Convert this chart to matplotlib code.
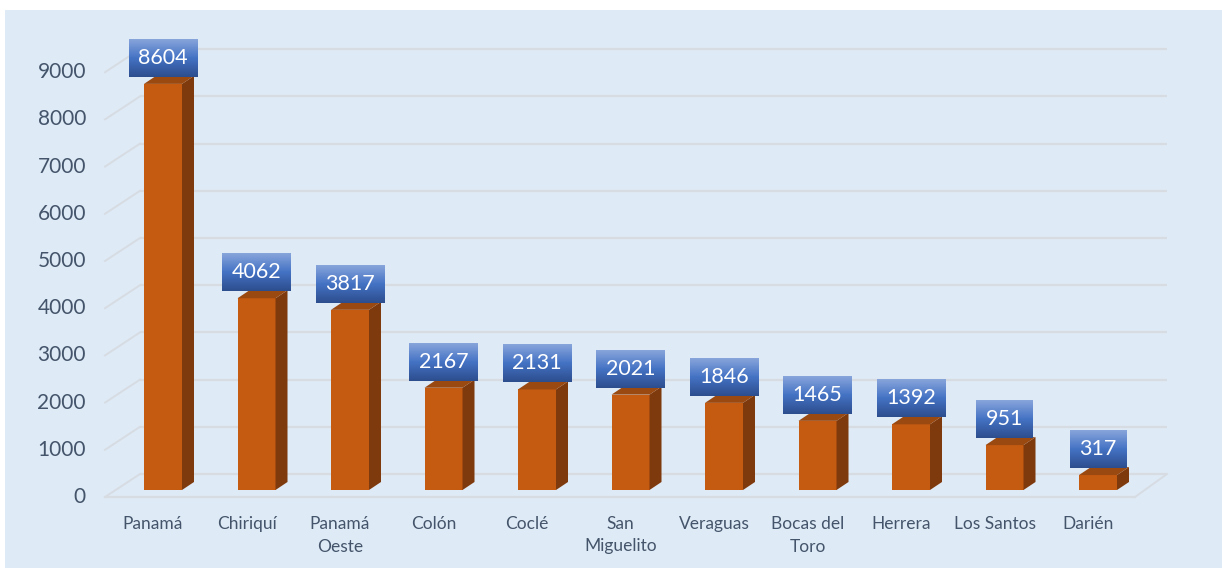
import matplotlib
matplotlib.use("Agg")
import matplotlib.pyplot as plt
import numpy as np
from matplotlib.patches import Rectangle, Polygon
from matplotlib.colors import LinearSegmentedColormap

categories = ["Panamá", "Chiriquí", "Panamá\nOeste", "Colón", "Coclé", "San\nMiguelito",
              "Veraguas", "Bocas del\nToro", "Herrera", "Los Santos", "Darién"]
values = [8604, 4062, 3817, 2167, 2131, 2021, 1846, 1465, 1392, 951, 317]
yticks = [0, 1000, 2000, 3000, 4000, 5000, 6000, 7000, 8000, 9000]

W, H = 1222, 568
fig = plt.figure(figsize=(W / 100, H / 100), dpi=100)
fig.patch.set_facecolor("white")
bg = Rectangle((5 / W, 0), 1 - 5 / W, 1 - 10 / H, transform=fig.transFigure,
               facecolor="#DEEAF6", edgecolor="none", zorder=-10)
fig.patches.append(bg)

ax = fig.add_axes([0, 0, 1, 1])
ax.set_facecolor("none")
ax.axis("off")
ax.set_zorder(5)

# pixel <-> data scales
X0, XS = 163.0, 93.5          # pixel x of first bar centre, px per category
Y0, YS = 490.0, 47.2          # pixel y of bar base, px per 1000
xlim = (-X0 / XS, (W - X0) / XS)
ylim = ((Y0 - H) / YS * 1000, Y0 / YS * 1000)
px_x = 1 / XS
px_y = 1000 / YS

def px(x):   # pixel x -> data x
    return (x - X0) / XS

grid_c = "#D7DCE3"
# back wall gridlines and left wall diagonals
for v in yticks:
    yb = v + 16 * px_y
    yf = v - 7 * px_y
    ax.plot([px(140), px(1167)], [yb, yb], color=grid_c, lw=1.6, zorder=1,
            solid_capstyle="butt")
    ax.plot([px(105), px(140)], [yf, yb], color=grid_c, lw=1.4, zorder=1)
# floor
ax.plot([px(105), px(1135)], [-7 * px_y, -7 * px_y], color=grid_c, lw=1.6, zorder=1)
ax.plot([px(1135), px(1167)], [-7 * px_y, 16 * px_y], color=grid_c, lw=1.4, zorder=1)

# bars
w = 38 * px_x
dx, dy = 12 * px_x, 8 * px_y
front_c, side_c, top_c = "#C55A11", "#7E390C", "#9A4911"
for i, v in enumerate(values):
    xl, xr = i - w / 2, i + w / 2
    ax.add_patch(Rectangle((xl, 0), w, v, facecolor=front_c, edgecolor="none", zorder=3))
    ax.add_patch(Polygon([(xr, 0), (xr + dx, dy), (xr + dx, v + dy), (xr, v)],
                         closed=True, facecolor=side_c, edgecolor="none", zorder=3))
    ax.add_patch(Polygon([(xl, v), (xr, v), (xr + dx, v + dy), (xl + dx, v + dy)],
                         closed=True, facecolor=top_c, edgecolor="none", zorder=3))

# tick labels
tick_c = "#44546A"
for v in yticks:
    ax.text(px(86), v - 7 * px_y, str(v), ha="right", va="center", fontsize=15,
            family="Lato", color=tick_c, zorder=5)
for i, c in enumerate(categories):
    ax.text(i - 10 * px_x, -26 * px_y, c, ha="center", va="top", fontsize=12.5,
            family="Lato", color=tick_c, linespacing=1.5, zorder=5)

ax.set_xlim(*xlim)
ax.set_ylim(*ylim)

# value labels with gradient boxes
cmap = LinearSegmentedColormap.from_list("g", ["#2D4E8E", "#4472C4", "#87A5DB"])
grad = np.linspace(0, 1, 64).reshape(-1, 1)
fig.canvas.draw()
renderer = fig.canvas.get_renderer()
for i, v in enumerate(values):
    bottom = v + 7 * px_y
    boxh = 38 * px_y
    t = ax.text(i, bottom + boxh / 2, str(v), ha="center", va="center", fontsize=15.5,
                family="Lato", color="white", zorder=8)
    ext = t.get_window_extent(renderer)
    half = (ext.width / 2 + 9.5) * px_x
    ax.imshow(grad, extent=(i - half, i + half, bottom, bottom + boxh), origin="lower",
              cmap=cmap, aspect="auto", zorder=7, interpolation="bilinear")

ax.set_xlim(*xlim)
ax.set_ylim(*ylim)
fig.savefig("out.png", dpi=100, facecolor=fig.get_facecolor())
